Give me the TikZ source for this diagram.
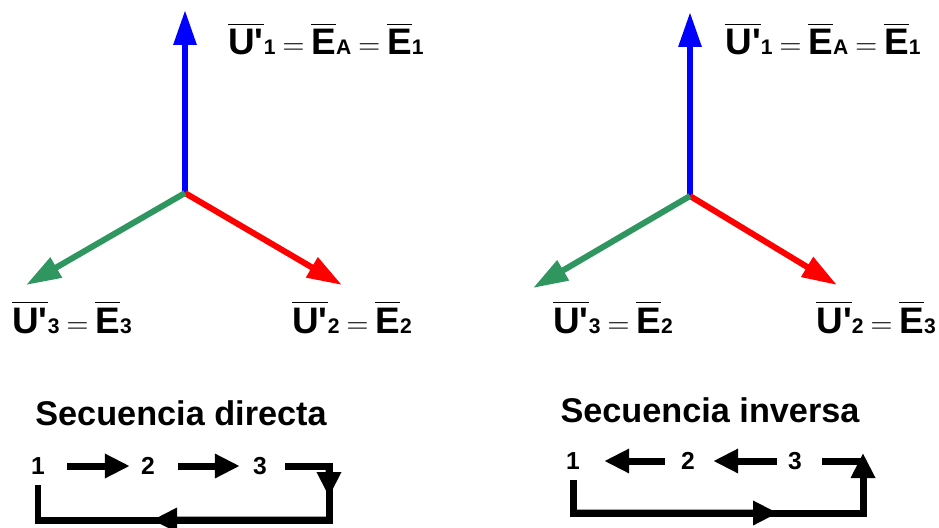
\documentclass[tikz,border=0pt]{standalone}
\usepackage{amsmath}
\usepackage{xcolor}
\usepackage{fontspec}
\setmainfont{Liberation Sans}
\usetikzlibrary{arrows.meta, positioning, calc}

\definecolor{phgreen}{RGB}{48,150,96}
\newcommand{\vbar}[1]{$\overline{\mbox{#1}}$}
\newcommand{\vsub}[1]{{\fontsize{12pt}{12pt}\selectfont #1}}
\newcommand{\veq}{\hspace{4pt}{\fontsize{17pt}{17pt}\selectfont$=$}\hspace{4pt}}

\begin{document}
\begin{tikzpicture}[x=0.02cm, y=-0.02cm, font=\bfseries]
    \tikzstyle{phasor} = [line width=0.12cm, -{Triangle[length=0.7cm, width=0.44cm]}]
    \tikzstyle{vlabel} = [anchor=base west, inner sep=0pt, font=\bfseries\fontsize{21pt}{21pt}\selectfont]
    \tikzstyle{digit} = [inner sep=0pt, font=\bfseries\fontsize{14pt}{14pt}\selectfont]
    \tikzstyle{title} = [inner sep=0pt, font=\bfseries\fontsize{19.5pt}{19.5pt}\selectfont]
    \tikzstyle{seqline} = [line width=0.14cm, line join=miter]
    \tikzstyle{seqarrow} = [line width=0.14cm, -{Triangle[length=0.5cm, width=0.46cm]}]

    \useasboundingbox (0,0) rectangle (939,527);

    % Phasors, left
    \coordinate (oL) at (185,193);
    \coordinate (uL) at (185,10);
    \coordinate (rL) at (342,285);
    \coordinate (gL) at (26,285);
    \draw [phasor, blue] (oL) -- (uL);
    \draw [phasor, red] (oL) -- (rL);
    \draw [phasor, phgreen] (oL) -- (gL);

    % Phasors, right
    \coordinate (oR) at (690,196);
    \coordinate (uR) at (690,12);
    \coordinate (rR) at (837,285);
    \coordinate (gR) at (533,288);
    \draw [phasor, blue] (oR) -- (uR);
    \draw [phasor, red] (oR) -- (rR);
    \draw [phasor, phgreen] (oR) -- (gR);

    % Labels
    \node (labUL) [vlabel] at (228,55) {\vbar{U\textquotesingle}\vsub{1}\veq\vbar{E}\vsub{A}\veq\vbar{E}\vsub{1}};
    \node (labGL) [vlabel] at (12,333) {\vbar{U\textquotesingle}\vsub{3}\veq\vbar{E}\vsub{3}};
    \node (labRL) [vlabel] at (292,333) {\vbar{U\textquotesingle}\vsub{2}\veq\vbar{E}\vsub{2}};
    \node (labUR) [vlabel] at (725,55) {\vbar{U\textquotesingle}\vsub{1}\veq\vbar{E}\vsub{A}\veq\vbar{E}\vsub{1}};
    \node (labGR) [vlabel] at (553,333) {\vbar{U\textquotesingle}\vsub{3}\veq\vbar{E}\vsub{2}};
    \node (labRR) [vlabel] at (816,333) {\vbar{U\textquotesingle}\vsub{2}\veq\vbar{E}\vsub{3}};

    % Direct sequence
    \node (titD) [title] at (181,413) {Secuencia directa};
    \node (d1) [digit] at (38,466) {1};
    \node (d2) [digit] at (148,466) {2};
    \node (d3) [digit] at (260,466) {3};
    \coordinate (dtr) at (329,466);
    \coordinate (dbr) at (329,520);
    \coordinate (dbl) at (38,520);
    \draw [seqarrow, shorten <=0.44cm, shorten >=0.22cm] (d1) -- (d2);
    \draw [seqarrow, shorten <=0.46cm, shorten >=0.26cm] (d2) -- (d3);
    \draw [seqline, shorten <=0.36cm, shorten >=0.2cm] (d3) -- (dtr) -- (dbr) -- (dbl) -- (d1);
    \draw [seqarrow] (dtr) -- ($(dtr)!0.574!(dbr)$);
    \draw [seqarrow] (dbr) -- ($(dbr)!0.608!(dbl)$);

    % Inverse sequence
    \node (titI) [title] at (710,410) {Secuencia inversa};
    \node (i1) [digit] at (573,461) {1};
    \node (i2) [digit] at (688,461) {2};
    \node (i3) [digit] at (795,461) {3};
    \coordinate (itr) at (863,461);
    \coordinate (ibr) at (863,513);
    \coordinate (ibl) at (573,513);
    \draw [seqarrow, shorten <=0.32cm, shorten >=0.48cm] (i2) -- (i1);
    \draw [seqarrow, shorten <=0.22cm, shorten >=0.36cm] (i3) -- (i2);
    \draw [seqline, shorten <=0.4cm] (i3) -- (itr);
    \draw [seqarrow, shorten <=0.2cm, shorten >=-0.16cm] (i1) -- (ibl) -- (ibr) -- (itr);
    \draw [seqarrow] (ibl) -- ($(ibl)!0.707!(ibr)$);
\end{tikzpicture}
\end{document}
